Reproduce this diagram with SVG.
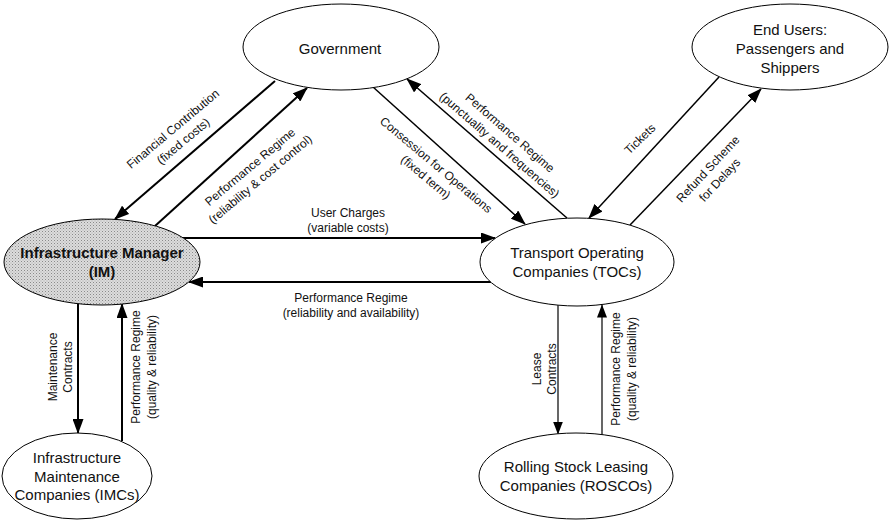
<svg xmlns="http://www.w3.org/2000/svg" width="890" height="520" viewBox="0 0 890 520">
<style>
  .node { fill: #ffffff; stroke: #000; stroke-width: 1; }
  .nt { font-family: "Liberation Sans", Arial, sans-serif; font-size: 15px; fill: #111; text-anchor: middle; }
  .lbl { font-family: "Liberation Sans", Arial, sans-serif; font-size: 12px; fill: #111; text-anchor: middle; }
  .c2 { stroke: #000; stroke-width: 2; fill: none; marker-end: url(#ah); }
  .c15 { stroke: #000; stroke-width: 1.5; fill: none; marker-end: url(#ah); }
  .c1 { stroke: #000; stroke-width: 1.2; fill: none; marker-end: url(#ahs); }
</style>
<defs>
  <marker id="ah" viewBox="0 0 15 11" refX="14" refY="5.5" markerWidth="15" markerHeight="11" markerUnits="userSpaceOnUse" orient="auto">
    <path d="M0,0 L15,5.5 L0,11 z" fill="#000"/>
  </marker>
  <marker id="ahs" viewBox="0 0 13 10" refX="12.5" refY="5" markerWidth="13" markerHeight="10" markerUnits="userSpaceOnUse" orient="auto">
    <path d="M0,0 L13,5 L0,10 z" fill="#000"/>
  </marker>
  <pattern id="stip" width="3" height="3" patternUnits="userSpaceOnUse">
    <rect width="3" height="3" fill="#dcdcdc"/>
    <rect x="0" y="0" width="1" height="1" fill="#8a8a8a"/>
    <rect x="1.5" y="1.5" width="1" height="1" fill="#a8a8a8"/>
  </pattern>
</defs>
<rect width="890" height="520" fill="#ffffff"/>

<g id="connectors">
  <!-- Government -> IM : Financial Contribution -->
  <line class="c2" x1="275" y1="81" x2="115" y2="219"/>
  <!-- IM -> Government : Performance Regime -->
  <line class="c2" x1="155" y1="226" x2="307" y2="88"/>
  <!-- Government -> TOC : Concession -->
  <line class="c15" x1="373" y1="87" x2="525" y2="224"/>
  <!-- TOC -> Government : Performance Regime -->
  <line class="c15" x1="567" y1="218" x2="407" y2="79"/>
  <!-- End Users -> TOC : Tickets -->
  <line class="c15" x1="719" y1="77" x2="589" y2="218"/>
  <!-- TOC -> End Users : Refund -->
  <line class="c15" x1="630" y1="225" x2="761" y2="89"/>
  <!-- IM -> TOC : User Charges -->
  <line class="c2" x1="183" y1="238" x2="495" y2="238"/>
  <!-- TOC -> IM : Performance Regime -->
  <line class="c2" x1="491" y1="282" x2="189" y2="282"/>
  <!-- IM -> IMC : Maintenance Contracts -->
  <line class="c2" x1="78" y1="304" x2="78" y2="433"/>
  <!-- IMC -> IM : Performance Regime -->
  <line class="c2" x1="122" y1="441" x2="122" y2="304"/>
  <!-- TOC -> ROSCO : Lease Contracts -->
  <line class="c1" x1="558" y1="305" x2="558" y2="434"/>
  <!-- ROSCO -> TOC : Performance Regime -->
  <line class="c1" x1="602" y1="435" x2="602" y2="305"/>

  <!-- labels -->
  <text class="lbl" transform="translate(173,129) rotate(-40)"><tspan x="0" y="4">Financial Contribution</tspan><tspan x="0" y="20">(fixed costs)</tspan></text>
  <text class="lbl" transform="translate(250,167) rotate(-40)"><tspan x="0" y="4">Performance Regime</tspan><tspan x="0" y="20">(reliability &amp; cost control)</tspan></text>
  <text class="lbl" transform="translate(436,165) rotate(40)"><tspan x="0" y="4">Consession for Operations</tspan><tspan x="0" y="20">(fixed term)</tspan></text>
  <text class="lbl" transform="translate(510,133) rotate(41)"><tspan x="0" y="4">Performance Regime</tspan><tspan x="0" y="20">(punctuality and frequencies)</tspan></text>
  <text class="lbl" transform="translate(640,139) rotate(-44)"><tspan x="0" y="4">Tickets</tspan></text>
  <text class="lbl" transform="translate(708,169) rotate(-47)"><tspan x="0" y="4">Refund Scheme</tspan><tspan x="0" y="20">for Delays</tspan></text>
  <text class="lbl"><tspan x="348" y="217">User Charges</tspan><tspan x="348" y="232">(variable costs)</tspan></text>
  <text class="lbl"><tspan x="351" y="302">Performance Regime</tspan><tspan x="351" y="317">(reliability and availability)</tspan></text>
  <text class="lbl" transform="translate(53,367) rotate(-90)"><tspan x="0" y="4">Maintenance</tspan><tspan x="0" y="19">Contracts</tspan></text>
  <text class="lbl" transform="translate(136,367) rotate(-90)"><tspan x="0" y="4">Performance Regime</tspan><tspan x="0" y="20">(quality &amp; reliability)</tspan></text>
  <text class="lbl" transform="translate(537,369) rotate(-90)"><tspan x="0" y="4">Lease</tspan><tspan x="0" y="19">Contracts</tspan></text>
  <text class="lbl" transform="translate(616,369) rotate(-90)"><tspan x="0" y="4">Performance Regime</tspan><tspan x="0" y="20">(quality &amp; reliability)</tspan></text>
</g>

<g id="government">
  <ellipse class="node" cx="341" cy="47" rx="98" ry="43"/>
  <text class="nt" x="340" y="54">Government</text>
</g>
<g id="end-users">
  <ellipse class="node" cx="790" cy="47" rx="98" ry="43"/>
  <text class="nt"><tspan x="790" y="35">End Users:</tspan><tspan x="790" y="54">Passengers and</tspan><tspan x="790" y="73">Shippers</tspan></text>
</g>
<g id="infrastructure-manager">
  <ellipse cx="102" cy="262" rx="98" ry="43" fill="url(#stip)" stroke="#000" stroke-width="1"/>
  <text class="nt" font-weight="bold" fill="#333"><tspan x="102" y="258">Infrastructure Manager</tspan><tspan x="102" y="277">(IM)</tspan></text>
</g>
<g id="toc">
  <ellipse class="node" cx="577" cy="262" rx="97" ry="44"/>
  <text class="nt"><tspan x="577" y="258">Transport Operating</tspan><tspan x="577" y="277">Companies (TOCs)</tspan></text>
</g>
<g id="imc">
  <ellipse class="node" cx="77" cy="476" rx="75" ry="43"/>
  <text class="nt"><tspan x="77" y="463">Infrastructure</tspan><tspan x="77" y="482">Maintenance</tspan><tspan x="77" y="500">Companies (IMCs)</tspan></text>
</g>
<g id="rosco">
  <ellipse class="node" cx="576" cy="476" rx="97" ry="43"/>
  <text class="nt"><tspan x="576" y="472">Rolling Stock Leasing</tspan><tspan x="576" y="491">Companies (ROSCOs)</tspan></text>
</g>
</svg>
